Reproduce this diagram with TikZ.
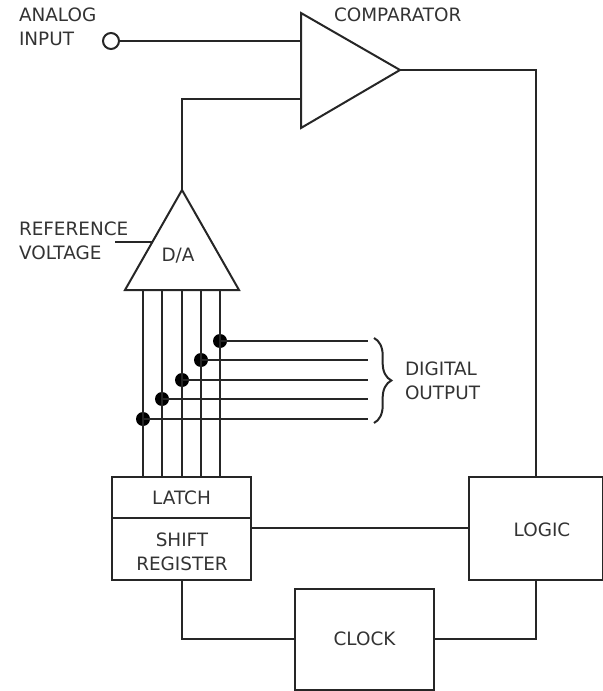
\documentclass[tikz,border=0pt]{standalone}
\usepackage{fontspec}
\setmainfont{DejaVu Sans}
\usepackage{tikz}
\usetikzlibrary{decorations.pathreplacing}

\begin{document}
\begin{tikzpicture}[x=0.75pt,y=-0.75pt,line width=1.5pt,color=black!85]
                \tikzset{every node/.style={font=\fontsize{13.8}{18}\selectfont, inner sep=0pt, text=black!80}}
                \tikzset{blockbox/.style={draw, minimum width=104.25pt}}
                \tikzset{dot/.style={circle, fill=black, minimum size=10.5pt}}
                \useasboundingbox (0,0) rectangle (602,691);
                % triangles
                \coordinate (Cmpa) at (301,13);
                \coordinate (Cmpb) at (301,128);
                \coordinate (Cmpout) at (400,70);
                \coordinate (Cmpin) at (301,41);
                \coordinate (Cmpref) at (301,99);
                \coordinate (Daapex) at (182,190);
                \coordinate (Daleft) at (125,290);
                \coordinate (Daright) at (239,290);
                \coordinate (Refend) at (115,242);
                \coordinate (Refin) at (153,242);
                \draw[line join=miter] (Cmpa) -- (Cmpout) -- (Cmpb) -- cycle;
                \draw[line join=miter] (Daapex) -- (Daright) -- (Daleft) -- cycle;
                % blocks
                \node[blockbox, minimum height=30.75pt] (latch) at (181.5,497.5) {LATCH};
                \node[blockbox, minimum height=46.5pt, align=center] (shift) at (181.5,549) {};
                \node[blockbox, minimum height=75.75pt] (clock) at (364.5,639) {CLOCK};
                \node[blockbox, minimum width=100.5pt, minimum height=77.25pt] (logic) at (536,528) {};
                \node[circle, draw, minimum size=12pt] (input) at (111,41) {};
                % labels
                \node[align=center] (shifttxt) at (182,552) {SHIFT\\REGISTER};
                \node (logictxt) at (542,530) {LOGIC};
                \node (datxt) at (178,256) {D/A};
                \node[anchor=west] (cmptxt) at (333,15) {COMPARATOR};
                \node[anchor=west, align=left] (inputtxt) at (18,27) {ANALOG\\INPUT};
                \node[anchor=west, align=left] (reftxt) at (18,241) {REFERENCE\\VOLTAGE};
                \node[anchor=west, align=left] (digtxt) at (404,381) {DIGITAL\\OUTPUT};
                % data lines
                \foreach \i/\x/\y in {a/143/419, b/162/399, c/182/380, d/201/360, e/220/341} {
                    \coordinate (top\i) at (\x,290);
                    \coordinate (bot\i) at (\x,477);
                    \coordinate (end\i) at (368,\y);
                    \node[dot] (dot\i) at (\x,\y) {};
                    \path (top\i) edge (bot\i);
                    \path (dot\i.center) edge (end\i);
                }
                \coordinate (Bracetop) at (374,338);
                \coordinate (Bracebot) at (374,423);
                \draw[decorate, decoration={brace, amplitude=13pt}] (Bracetop) -- (Bracebot);
                % connections
                \coordinate (Shiftout) at (182,580);
                \path (input) edge (Cmpin);
                \path (Refend) edge (Refin);
                \draw (Daapex) |- (Cmpref);
                \draw (Cmpout) -| (logic.north);
                \draw (shift.east |- logic.west) -- (logic.west);
                \draw (Shiftout) |- (clock.west);
                \draw (clock.east) -| (logic.south);
            \end{tikzpicture}
\end{document}
